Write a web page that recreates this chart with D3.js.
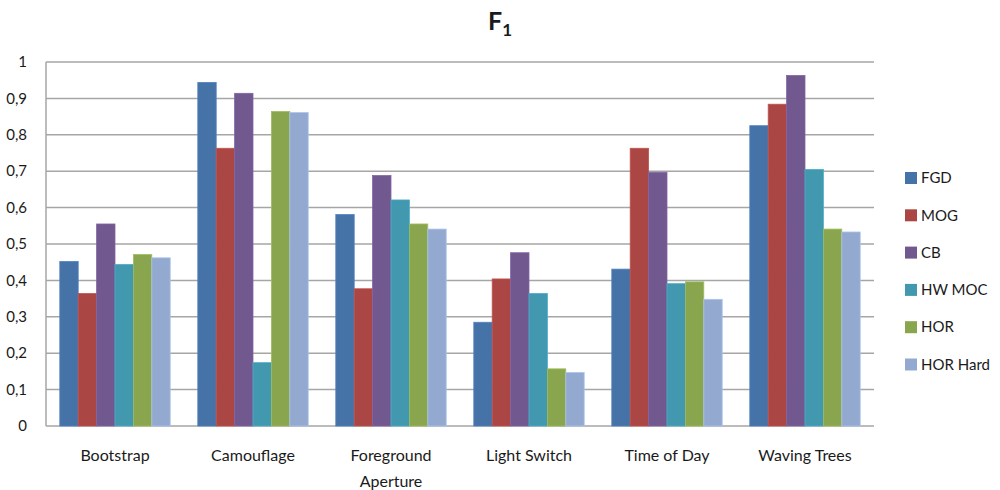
<!DOCTYPE html>
<html>
<head>
<meta charset="utf-8">
<script src="https://cdn.jsdelivr.net/npm/d3@7"></script>
<style>
  body { margin: 0; background: #fff; }
  text { font-family: Lato, "Open Sans", sans-serif; fill: #1a1a1a; }
</style>
</head>
<body>
<svg id="chart" width="1000" height="490"></svg>
<script>
// categories and series
const categories = ["Bootstrap", "Camouflage", "Foreground Aperture", "Light Switch", "Time of Day", "Waving Trees"];
const seriesNames = ["FGD", "MOG", "CB", "HW MOC", "HOR", "HOR Hard"];
const seriesColors = ["#4572A7", "#AA4643", "#71588F", "#4198AF", "#89A54E", "#93A9CF"];

const fgd = [0.452, 0.944, 0.581, 0.285, 0.431, 0.825];
const mog = [0.364, 0.763, 0.377, 0.404, 0.763, 0.884];
const cb = [0.555, 0.914, 0.688, 0.476, 0.697, 0.963];
const hwMoc = [0.444, 0.174, 0.621, 0.364, 0.391, 0.705];
const hor = [0.471, 0.864, 0.555, 0.157, 0.396, 0.541];
const horHard = [0.462, 0.861, 0.541, 0.147, 0.348, 0.533];
const yTicks = [0, 0.1, 0.2, 0.3, 0.4, 0.5, 0.6, 0.7, 0.8, 0.9, 1];

const values = [fgd, mog, cb, hwMoc, hor, horHard];

const svg = d3.select("#chart");
const margin = { left: 46, right: 126, top: 62, bottom: 64 };
const width = 1000;
const height = 490;

const x0 = d3.scaleBand()
  .domain(categories)
  .range([margin.left, width - margin.right])
  .paddingInner(0.2)
  .paddingOuter(0.1);

const x1 = d3.scaleBand()
  .domain(seriesNames)
  .range([0, x0.bandwidth()]);

const y = d3.scaleLinear()
  .domain([0, 1])
  .range([height - margin.bottom, margin.top]);

// grid lines
svg.append("g")
  .selectAll("line")
  .data(yTicks)
  .join("line")
  .attr("x1", margin.left)
  .attr("x2", width - margin.right)
  .attr("y1", d => y(d))
  .attr("y2", d => y(d))
  .attr("stroke", "#a6a6a6")
  .attr("stroke-width", 1.5);

// y axis line
svg.append("line")
  .attr("x1", margin.left).attr("x2", margin.left)
  .attr("y1", y(0)).attr("y2", y(1))
  .attr("stroke", "#a6a6a6")
  .attr("stroke-width", 1.5);

// y labels
svg.append("g")
  .selectAll("text")
  .data(yTicks)
  .join("text")
  .attr("x", margin.left - 19)
  .attr("y", d => y(d))
  .attr("dy", "0.35em")
  .attr("text-anchor", "end")
  .style("font-size", "15px")
  .text(d => d3.format(".1~f")(d).replace(".", ","));

// bars
const groups = svg.append("g")
  .selectAll("g")
  .data(categories)
  .join("g")
  .attr("transform", d => `translate(${x0(d)},0)`);

groups.selectAll("rect")
  .data((c, ci) => seriesNames.map((s, si) => ({ s, si, v: values[si][ci] })))
  .join("rect")
  .attr("x", d => x1(d.s))
  .attr("width", x1.bandwidth())
  .attr("y", d => y(d.v))
  .attr("height", d => y(0) - y(d.v))
  .attr("fill", d => seriesColors[d.si])
  .attr("stroke", d => d3.color(seriesColors[d.si]).brighter(0.4))
  .attr("stroke-width", 0.8);

// category labels
const catLabels = svg.append("g")
  .selectAll("text")
  .data(categories)
  .join("text")
  .attr("x", d => x0(d) + x0.bandwidth() / 2)
  .attr("y", 461)
  .attr("text-anchor", "middle")
  .style("font-size", "16px");

catLabels.each(function (d) {
  const t = d3.select(this);
  const parts = d === "Foreground Aperture" ? ["Foreground", "Aperture"] : [d];
  parts.forEach((p, i) => {
    t.append("tspan")
      .attr("x", x0(d) + x0.bandwidth() / 2)
      .attr("dy", i === 0 ? 0 : 26)
      .text(p);
  });
});

// legend
const legend = svg.append("g")
  .selectAll("g")
  .data(seriesNames)
  .join("g")
  .attr("transform", (d, i) => `translate(905,${178 + i * 37.3})`);

legend.append("rect")
  .attr("x", 0).attr("y", -6)
  .attr("width", 12).attr("height", 12)
  .attr("fill", (d, i) => seriesColors[i]);

legend.append("text")
  .attr("x", 16)
  .attr("dy", "0.35em")
  .style("font-size", "15px")
  .text(d => d);

// title
const title = svg.append("text")
  .attr("x", 500)
  .attr("y", 30)
  .attr("text-anchor", "middle")
  .style("font-size", "25px")
  .style("font-weight", "bold");
title.append("tspan").text("F");
title.append("tspan").attr("dy", 6).style("font-size", "17px").text("1");
</script>
</body>
</html>
